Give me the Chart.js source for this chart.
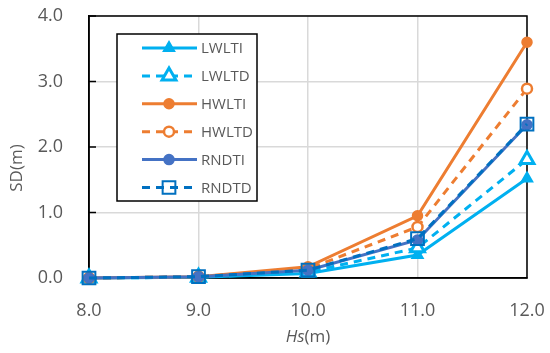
<!DOCTYPE html>
<html>
<head>
<meta charset="utf-8">
<script src="https://cdn.jsdelivr.net/npm/chart.js"></script>
<style>
  html, body { margin: 0; padding: 0; background: #fff; }
  #wrap { width: 550px; height: 353px; position: relative; }
</style>
</head>
<body>
<div id="wrap"><canvas id="myChart" width="550" height="353"></canvas></div>
<script>
// Hs (m) on the x axis
const hsValues = [8.0, 9.0, 10.0, 11.0, 12.0];

// SD (m) for every case
const lwlti = [0, 0.01, 0.07, 0.35, 1.52];
const lwltd = [0, 0.01, 0.09, 0.46, 1.81];
const hwlti = [0, 0.02, 0.17, 0.95, 3.60];
const hwltd = [0, 0.02, 0.14, 0.78, 2.89];
const rndti = [0, 0.02, 0.12, 0.58, 2.34];
const rndtd = [0, 0.02, 0.12, 0.60, 2.35];

const seriesLabels = ['LWLTI', 'LWLTD', 'HWLTI', 'HWLTD', 'RNDTI', 'RNDTD'];
const yTicks = [0, 1, 2, 3, 4];

const textColor = '#595959';
const fontFamily = "'Open Sans', 'Noto Sans', sans-serif";

function pts(vals) {
    return vals.map(function (v, i) {
        return { x: hsValues[i], y: v };
    });
}

const lightBlue = '#00B0F0';
const orange = '#ED7D31';
const blue = '#4472C4';
const darkBlue = '#0070C0';

const dataObj = {
    datasets: [
        { label: seriesLabels[0], data: pts(lwlti), borderColor: lightBlue, backgroundColor: lightBlue,
          pointStyle: 'triangle', pointRadius: 6, pointBorderWidth: 2, borderDash: [] },
        { label: seriesLabels[1], data: pts(lwltd), borderColor: lightBlue, backgroundColor: '#ffffff',
          pointStyle: 'triangle', pointRadius: 8, pointBorderWidth: 3, borderDash: [8, 6] },
        { label: seriesLabels[2], data: pts(hwlti), borderColor: orange, backgroundColor: orange,
          pointStyle: 'circle', pointRadius: 5, pointBorderWidth: 1.5, borderDash: [] },
        { label: seriesLabels[3], data: pts(hwltd), borderColor: orange, backgroundColor: '#ffffff',
          pointStyle: 'circle', pointRadius: 5, pointBorderWidth: 2.5, borderDash: [8, 6] },
        { label: seriesLabels[4], data: pts(rndti), borderColor: blue, backgroundColor: blue,
          pointStyle: 'circle', pointRadius: 5, pointBorderWidth: 1.5, borderDash: [] },
        { label: seriesLabels[5], data: pts(rndtd), borderColor: darkBlue, backgroundColor: 'rgba(0,0,0,0)',
          pointStyle: 'rect', pointRadius: 9, pointBorderWidth: 2, borderDash: [8, 6] }
    ]
};
dataObj.datasets.forEach(function (d, i) {
    d.borderWidth = 3;
    d.tension = 0;
    d.clip = false;
    d.order = dataObj.datasets.length - i; // later series on top, like the original
    d.pointBackgroundColor = d.backgroundColor;
    d.pointBorderColor = d.borderColor;
    d.pointHoverRadius = d.pointRadius;
});

function marker(ctx, style, x, y, r, fill, stroke, lw) {
    ctx.save();
    ctx.setLineDash([]);
    ctx.fillStyle = fill;
    ctx.strokeStyle = stroke;
    ctx.lineWidth = lw;
    ctx.beginPath();
    if (style === 'circle') {
        ctx.arc(x, y, r, 0, Math.PI * 2);
    } else if (style === 'triangle') {
        ctx.moveTo(x, y - r);
        ctx.lineTo(x + r * Math.sin(Math.PI / 3), y + r / 2);
        ctx.lineTo(x - r * Math.sin(Math.PI / 3), y + r / 2);
        ctx.closePath();
    } else {
        const s = r * Math.SQRT1_2;
        ctx.rect(x - s, y - s, 2 * s, 2 * s);
    }
    ctx.fill();
    ctx.stroke();
    ctx.restore();
}

// plot border + inside ticks, drawn under the lines
const frame = {
    id: 'frame',
    beforeDatasetsDraw: function (chart) {
        const ctx = chart.ctx;
        const area = chart.chartArea;
        const ys = chart.scales.y;
        ctx.save();
        ctx.strokeStyle = '#000';
        ctx.lineWidth = 1.5;
        ctx.strokeRect(area.left, area.top, area.right - area.left, area.bottom - area.top);
        yTicks.forEach(function (t) {
            const py = ys.getPixelForValue(t);
            ctx.beginPath();
            ctx.moveTo(area.left, py);
            ctx.lineTo(area.left + 7, py);
            ctx.stroke();
        });
        ctx.restore();
    }
};

// legend box and axis titles
const extras = {
    id: 'extras',
    afterDraw: function (chart) {
        const ctx = chart.ctx;
        const area = chart.chartArea;

        const bx = 117, by = 34, bw = 140, bh = 167;
        ctx.save();
        ctx.fillStyle = '#fff';
        ctx.fillRect(bx, by, bw, bh);
        ctx.strokeStyle = '#000';
        ctx.lineWidth = 1.5;
        ctx.strokeRect(bx, by, bw, bh);
        ctx.font = '15px ' + fontFamily;
        ctx.textBaseline = 'middle';
        chart.data.datasets.forEach(function (d, i) {
            const ly = 48 + i * 27.9;
            ctx.save();
            ctx.strokeStyle = d.borderColor;
            ctx.lineWidth = 3;
            ctx.setLineDash(d.borderDash);
            ctx.beginPath();
            ctx.moveTo(142, ly);
            ctx.lineTo(197, ly);
            ctx.stroke();
            ctx.restore();
            marker(ctx, d.pointStyle, 169, ly, d.pointRadius, d.pointBackgroundColor,
                   d.pointBorderColor, d.pointBorderWidth);
            ctx.fillStyle = textColor;
            ctx.fillText(d.label, 201, ly + 1);
        });
        ctx.restore();

        ctx.save();
        ctx.fillStyle = textColor;
        ctx.textBaseline = 'middle';
        ctx.font = '17px ' + fontFamily;
        ctx.translate(17, 168);
        ctx.rotate(-Math.PI / 2);
        ctx.textAlign = 'center';
        ctx.fillText('SD(m)', 0, 0);
        ctx.restore();

        ctx.save();
        ctx.fillStyle = textColor;
        ctx.textBaseline = 'middle';
        ctx.font = 'italic 17px ' + fontFamily;
        const w1 = ctx.measureText('Hs').width;
        ctx.font = '17px ' + fontFamily;
        const w2 = ctx.measureText('(m)').width;
        const tx = (area.left + area.right) / 2 - (w1 + w2) / 2;
        ctx.font = 'italic 17px ' + fontFamily;
        ctx.fillText('Hs', tx, 337);
        ctx.font = '17px ' + fontFamily;
        ctx.fillText('(m)', tx + w1, 337);
        ctx.restore();
    }
};

var chartArea = document.getElementById('myChart');

const chartContent = new Chart(chartArea, {
    type: 'line',
    data: dataObj,
    plugins: [frame, extras],
    options: {
        responsive: false,
        animation: false,
        layout: { autoPadding: false, padding: { left: 0, top: 16, right: 23, bottom: 0 } },
        plugins: {
            legend: { display: false },
            tooltip: { enabled: false }
        },
        scales: {
            x: {
                type: 'linear',
                min: 8, max: 12,
                afterFit: function (s) {
                    s.height = 75;
                    s.paddingLeft = 0; s.paddingRight = 0;
                },
                ticks: {
                    stepSize: 1,
                    padding: 22,
                    color: textColor,
                    font: { family: fontFamily, size: 18 },
                    callback: function (v) { return v.toFixed(1); }
                },
                grid: { color: '#d9d9d9', lineWidth: 1.5, drawTicks: false },
                border: { color: '#000', width: 1.5 }
            },
            y: {
                min: 0, max: 4,
                afterFit: function (s) {
                    s.width = 89;
                    s.paddingTop = 0; s.paddingBottom = 0;
                },
                ticks: {
                    stepSize: 1,
                    padding: 26,
                    color: textColor,
                    font: { family: fontFamily, size: 18 },
                    callback: function (v) { return v.toFixed(1); }
                },
                grid: { color: '#d9d9d9', lineWidth: 1.5, drawTicks: false },
                border: { color: '#000', width: 1.5 }
            }
        }
    }
});
</script>
</body>
</html>
